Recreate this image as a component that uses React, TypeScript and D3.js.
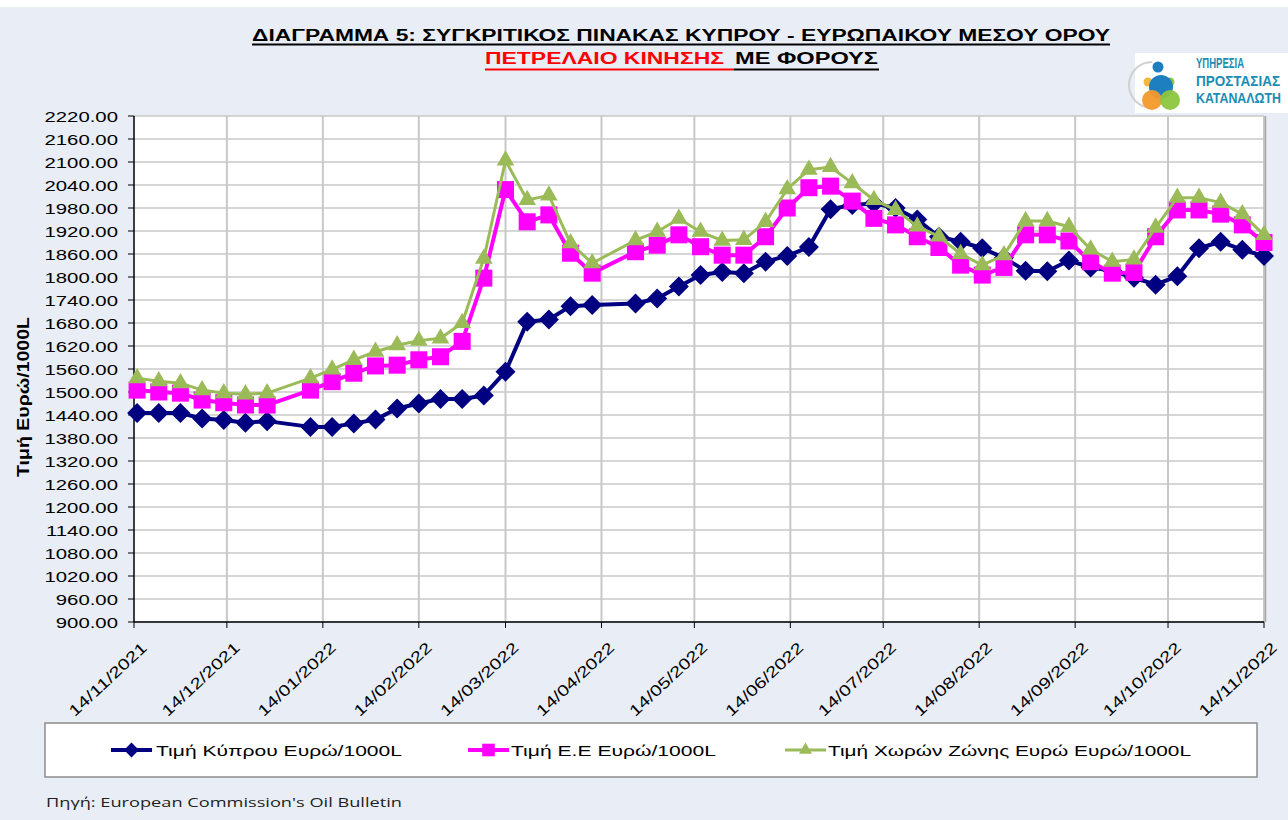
import React from "react";
import * as d3 from "d3";

// weekly Oil Bulletin dates
const dates = [
  "2021-11-15", "2021-11-22", "2021-11-29", "2021-12-06", "2021-12-13", "2021-12-20", "2021-12-27",
  "2022-01-10", "2022-01-17", "2022-01-24", "2022-01-31", "2022-02-07", "2022-02-14", "2022-02-21",
  "2022-02-28", "2022-03-07", "2022-03-14", "2022-03-21", "2022-03-28", "2022-04-04", "2022-04-11",
  "2022-04-25", "2022-05-02", "2022-05-09", "2022-05-16", "2022-05-23", "2022-05-30", "2022-06-06",
  "2022-06-13", "2022-06-20", "2022-06-27", "2022-07-04", "2022-07-11", "2022-07-18", "2022-07-25",
  "2022-08-01", "2022-08-08", "2022-08-15", "2022-08-22", "2022-08-29", "2022-09-05", "2022-09-12",
  "2022-09-19", "2022-09-26", "2022-10-03", "2022-10-10", "2022-10-17", "2022-10-24", "2022-10-31",
  "2022-11-07", "2022-11-14",
];

const cyprusPrice = [
  1445, 1445, 1445, 1431, 1427, 1420, 1424, 1409, 1409, 1418, 1428, 1457, 1470, 1482, 1482, 1491,
  1553, 1683, 1689, 1724, 1727, 1731, 1744, 1775, 1805, 1813, 1810, 1840, 1855, 1878, 1977, 1988,
  1992, 1980, 1950, 1905, 1892, 1875, 1850, 1816, 1815, 1843, 1825, 1816, 1798, 1780, 1802, 1875,
  1892, 1871, 1855,
];

const euPrice = [
  1505, 1500, 1497, 1479, 1472, 1466, 1466, 1505, 1527, 1549, 1568, 1570, 1584, 1592, 1632, 1797,
  2028, 1944, 1962, 1862, 1810, 1866, 1883, 1910, 1879, 1857, 1857, 1905, 1980, 2033, 2037, 1998,
  1953, 1936, 1905, 1877, 1831, 1805, 1825, 1910, 1910, 1894, 1840, 1810, 1812, 1905, 1975, 1975,
  1964, 1936, 1890,
];

const eurozonePrice = [
  1536, 1528, 1523, 1505, 1497, 1494, 1497, 1536, 1559, 1584, 1605, 1622, 1634, 1640, 1680, 1848,
  2104, 2001, 2013, 1888, 1836, 1896, 1918, 1952, 1918, 1895, 1897, 1944, 2029, 2080, 2087, 2045,
  2001, 1975, 1932, 1906, 1860, 1831, 1857, 1946, 1946, 1931, 1872, 1840, 1846, 1929, 2007, 2007,
  1994, 1964, 1910,
];

const yTickValues = [
  900, 960, 1020, 1080, 1140, 1200, 1260, 1320, 1380, 1440, 1500, 1560, 1620, 1680, 1740, 1800,
  1860, 1920, 1980, 2040, 2100, 2160, 2220,
];

const xTickDates = [
  "2021-11-14", "2021-12-14", "2022-01-14", "2022-02-14", "2022-03-14", "2022-04-14", "2022-05-14",
  "2022-06-14", "2022-07-14", "2022-08-14", "2022-09-14", "2022-10-14", "2022-11-14",
];

const seriesNames = [
  "Τιμή Κύπρου Ευρώ/1000L",
  "Τιμή Ε.Ε Ευρώ/1000L",
  "Τιμή Χωρών Ζώνης Ευρώ Ευρώ/1000L",
];

const logoLines = ["ΥΠΗΡΕΣΙΑ", "ΠΡΟΣΤΑΣΙΑΣ", "ΚΑΤΑΝΑΛΩΤΗ"];

const width = 1288;
const height = 820;
const plot = { left: 134, right: 1264, top: 116, bottom: 622 };
const font = "'Liberation Sans', Arial, sans-serif";

const parse = d3.timeParse("%Y-%m-%d");
const fmt = d3.timeFormat("%d/%m/%Y");

const markerPath = (kind: string, small = false) => {
  const k = small ? 0.55 : 1;
  if (kind === "diamond") return d3.symbol(d3.symbolSquare, 200 * k)();
  if (kind === "square") return d3.symbol(d3.symbolSquare, 290 * k)();
  return d3.symbol(d3.symbolTriangle, 135 * k)();
};

export default function App() {
  const x = d3
    .scaleTime()
    .domain([parse(xTickDates[0]) as Date, parse(xTickDates[xTickDates.length - 1]) as Date])
    .range([plot.left, plot.right]);
  const y = d3.scaleLinear().domain([900, 2220]).range([plot.bottom, plot.top]);

  const series = [
    { name: seriesNames[0], values: cyprusPrice, color: "#000080", width: 4, marker: "diamond" },
    { name: seriesNames[1], values: euPrice, color: "#FF00FF", width: 4, marker: "square" },
    { name: seriesNames[2], values: eurozonePrice, color: "#9BBB59", width: 3, marker: "triangle" },
  ];

  const line = d3
    .line<number>()
    .x((_, i) => x(parse(dates[i]) as Date))
    .y((v) => y(v));

  const legendPos = [
    { lx: 111, tx: 156, tl: 246 },
    { lx: 468, tx: 511, tl: 205 },
    { lx: 785, tx: 828, tl: 363 },
  ];

  return (
    <svg
      width={width}
      height={height}
      style={{ position: "absolute", left: 0, top: 0, display: "block" }}
    >
      <rect width={width} height={height} fill="#fff" />
      <rect x={0} y={7} width={width} height={height - 7} fill="#E9EEF6" />

      {/* title */}
      <text x={252} y={41} fontFamily={font} fontWeight="bold" fontSize={16} textLength={858}
        lengthAdjust="spacingAndGlyphs" fill="#000">
        ΔΙΑΓΡΑΜΜΑ 5: ΣΥΓΚΡΙΤΙΚΟΣ ΠΙΝΑΚΑΣ ΚΥΠΡΟΥ - ΕΥΡΩΠΑΙΚΟΥ ΜΕΣΟΥ ΟΡΟΥ
      </text>
      <line x1={252} x2={1110} y1={44.5} y2={44.5} stroke="#000" strokeWidth={2} />
      <text x={485} y={64} fontFamily={font} fontWeight="bold" fontSize={16} textLength={239}
        lengthAdjust="spacingAndGlyphs" fill="#FF0000">
        ΠΕΤΡΕΛΑΙΟ ΚΙΝΗΣΗΣ
      </text>
      <text x={735} y={64} fontFamily={font} fontWeight="bold" fontSize={16} textLength={143}
        lengthAdjust="spacingAndGlyphs" fill="#000">
        ΜΕ ΦΟΡΟΥΣ
      </text>
      <line x1={485} x2={734} y1={69.5} y2={69.5} stroke="#FF0000" strokeWidth={2} />
      <line x1={734} x2={879} y1={69.5} y2={69.5} stroke="#000" strokeWidth={2} />

      {/* logo */}
      <g>
        <rect x={1135} y={53} width={153} height={60} fill="#fff" />
        <path d="M1152,108 A23,23 0 0 1 1152,62" fill="none" stroke="#D0D0D0" strokeWidth={2} />
        <circle cx={1158} cy={67} r={5.5} fill="#1E7FC0" />
        <circle cx={1148} cy={82} r={4.5} fill="#F4B63C" />
        <circle cx={1170} cy={82} r={4.5} fill="#8DC63F" />
        <circle cx={1161} cy={87} r={12} fill="#1E7FC0" />
        <circle cx={1152} cy={100} r={10} fill="#F39A2B" opacity={0.95} />
        <circle cx={1170} cy={100} r={10} fill="#8DC63F" opacity={0.95} />
        {logoLines.map((t, i) => (
          <g key={t} transform={`translate(1196, ${68 + i * 17.5}) scale(1, 1.25)`}>
            <text x={0} y={0} fontFamily={font} fontWeight="bold" fontSize={11.5}
              textLength={[48, 84, 85][i]} lengthAdjust="spacingAndGlyphs" fill="#1B8DB3">
              {t}
            </text>
          </g>
        ))}
      </g>

      {/* plot area */}
      <rect x={plot.left} y={plot.top} width={plot.right - plot.left} height={plot.bottom - plot.top}
        fill="#fff" />
      {yTickValues.map((v) => (
        <line key={"gy" + v} x1={plot.left} x2={plot.right} y1={y(v)} y2={y(v)} stroke="#C8C8C8"
          strokeWidth={1.5} />
      ))}
      {xTickDates.slice(1).map((d) => (
        <line key={"gx" + d} x1={x(parse(d) as Date)} x2={x(parse(d) as Date)} y1={plot.top}
          y2={plot.bottom} stroke="#C8C8C8" strokeWidth={2} />
      ))}
      <line x1={plot.right + 1.5} x2={plot.right + 1.5} y1={plot.top} y2={plot.bottom} stroke="#A6A6A6"
        strokeWidth={1.5} />

      {/* axes */}
      <line x1={plot.left} x2={plot.left} y1={plot.top} y2={plot.bottom} stroke="#000" strokeWidth={1.5} />
      <line x1={plot.left} x2={plot.right} y1={plot.bottom} y2={plot.bottom} stroke="#000" strokeWidth={1.5} />
      {yTickValues.map((v) => (
        <g key={"ty" + v}>
          <line x1={plot.left - 6} x2={plot.left} y1={y(v)} y2={y(v)} stroke="#000" strokeWidth={1} />
          <g transform={`translate(118, ${y(v) + 5.5}) scale(1.33, 1)`}>
            <text textAnchor="end" fontFamily={font} fontSize={15.3} fill="#000">
              {v.toFixed(2)}
            </text>
          </g>
        </g>
      ))}
      {xTickDates.map((d) => {
        const px = x(parse(d) as Date);
        return (
          <g key={"tx" + d}>
            <line x1={px} x2={px} y1={plot.bottom} y2={plot.bottom + 6} stroke="#000" strokeWidth={1} />
            <text transform={`translate(${px + 14}, 649) rotate(-43)`} textAnchor="end" fontFamily={font}
              fontSize={15.5} textLength={100} lengthAdjust="spacingAndGlyphs" fill="#000">
              {fmt(parse(d) as Date)}
            </text>
          </g>
        );
      })}

      <text transform="translate(29, 397) rotate(-90)" textAnchor="middle" fontFamily={font}
        fontWeight="bold" fontSize={16} textLength={160} lengthAdjust="spacingAndGlyphs" fill="#000">
        Τιμή Ευρώ/1000L
      </text>

      {/* series */}
      {series.map((s) => (
        <g key={s.name}>
          <path d={line(s.values) || ""} fill="none" stroke={s.color} strokeWidth={s.width}
            strokeLinejoin="round" />
          {s.values.map((v, i) => (
            <path key={i} d={markerPath(s.marker) || ""}
              transform={`translate(${x(parse(dates[i]) as Date)}, ${y(v)})${s.marker === "diamond" ? " rotate(45)" : ""}`}
              fill={s.color} />
          ))}
        </g>
      ))}

      {/* legend */}
      <rect x={45} y={723} width={1212} height={54} fill="#fff" stroke="#8C8C8C" strokeWidth={1.5} />
      {series.map((s, i) => {
        const p = legendPos[i];
        return (
          <g key={"lg" + i}>
            <line x1={p.lx} x2={p.lx + 41} y1={750} y2={750} stroke={s.color} strokeWidth={s.width} />
            <path d={markerPath(s.marker, true) || ""}
              transform={`translate(${p.lx + 20.5}, 750)${s.marker === "diamond" ? " rotate(45)" : ""}`}
              fill={s.color} />
            <text x={p.tx} y={756} fontFamily={font} fontSize={15.5} textLength={p.tl}
              lengthAdjust="spacingAndGlyphs" fill="#000">
              {s.name}
            </text>
          </g>
        );
      })}

      <text x={46} y={807} fontFamily="'Open Sans', sans-serif" fontSize={13} textLength={356}
        lengthAdjust="spacingAndGlyphs" fill="#222">
        Πηγή: European Commission's Oil Bulletin
      </text>
    </svg>
  );
}
